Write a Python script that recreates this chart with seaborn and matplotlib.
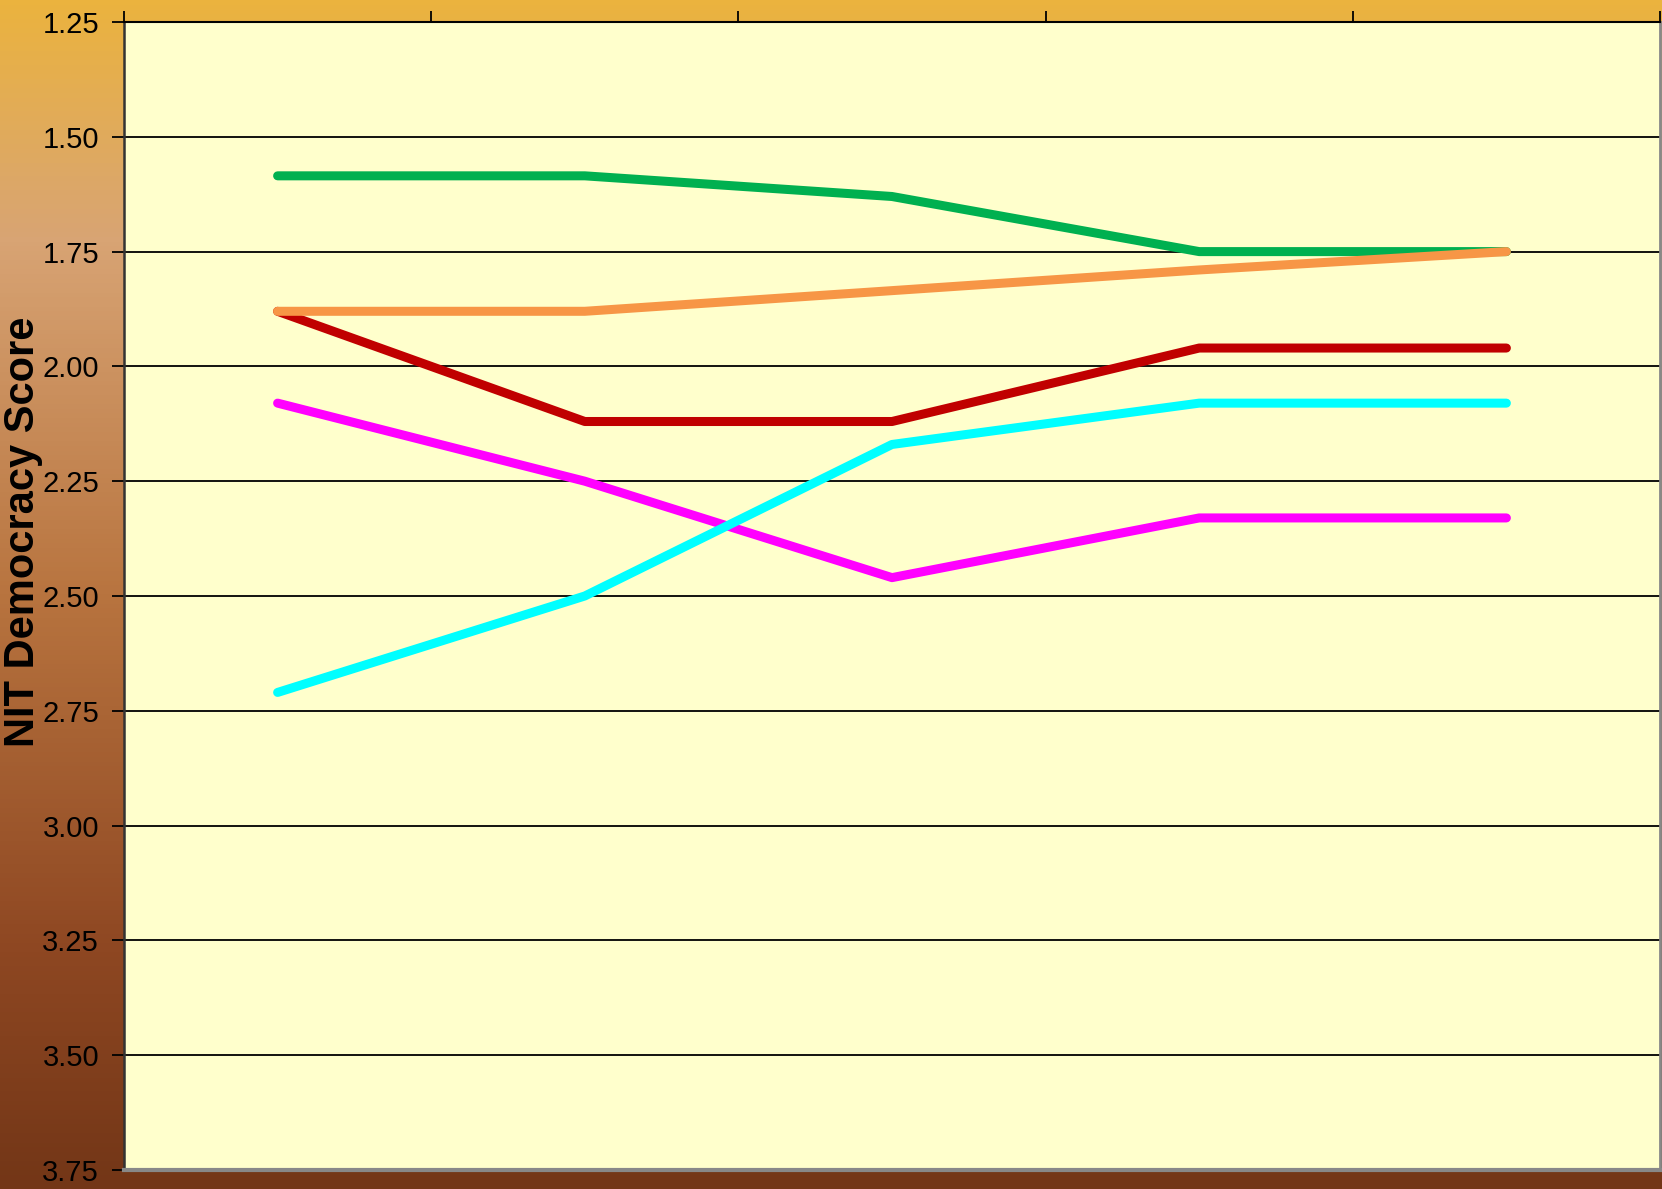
import numpy as np
import pandas as pd
import seaborn as sns
import matplotlib.pyplot as plt
from matplotlib.colors import LinearSegmentedColormap

# five periods (no labels shown on the axis)
periods = ["P1", "P2", "P3", "P4", "P5"]

# NIT democracy scores
green = [1.585, 1.585, 1.63, 1.75, 1.75]
red = [1.88, 2.12, 2.12, 1.96, 1.96]
magenta = [2.08, 2.25, 2.46, 2.33, 2.33]
cyan = [2.71, 2.50, 2.17, 2.08, 2.08]
orange = [1.88, 1.88, 1.835, 1.79, 1.75]

series_names = ["green", "red", "magenta", "cyan", "orange"]
series_values = [green, red, magenta, cyan, orange]
colors = {"green": "#00B050", "red": "#C00000", "magenta": "#FF00FF",
          "cyan": "#00FFFF", "orange": "#F79646"}

yticks = [1.25, 1.50, 1.75, 2.00, 2.25, 2.50, 2.75, 3.00, 3.25, 3.50, 3.75]

rows = []
for name, vals in zip(series_names, series_values):
    for p, v in zip(periods, vals):
        rows.append({"period": p, "score": v, "series": name})
df = pd.DataFrame(rows)

sns.set_theme(style="white")
plt.rcParams['font.family'] = ['Liberation Sans', 'DejaVu Sans']

fig = plt.figure(figsize=(16.62, 11.89), dpi=100)

# gradient background behind everything
bg = fig.add_axes([0, 0, 1, 1], zorder=-10)
grad = np.linspace(0, 1, 256).reshape(-1, 1)
cmap = LinearSegmentedColormap.from_list(
    "bg", [(0, "#EBB33E"), (0.2, "#D8A474"), (0.5, "#B8743F"),
           (0.8, "#8E4722"), (1, "#733617")])
bg.imshow(grad, aspect='auto', cmap=cmap, extent=[0, 1, 0, 1], origin='upper')
bg.axis('off')

ax = fig.add_axes([124 / 1662, 1 - 1170 / 1189, (1660 - 124) / 1662, (1170 - 22) / 1189])
ax.set_facecolor('#FFFFCC')

sns.lineplot(data=df, x="period", y="score", hue="series", hue_order=series_names,
             palette=colors, linewidth=6.5, sort=False, legend=False, ax=ax,
             solid_capstyle='round', solid_joinstyle='round', zorder=3)

ax.set_ylim(3.75, 1.25)
ax.set_yticks(yticks)
ax.set_yticklabels([f"{t:.2f}" for t in yticks])
ax.grid(axis='y', color='black', linewidth=1.3)
ax.grid(axis='x', visible=False)
ax.set_axisbelow(True)

ax.set_xlim(-0.5, 4.5)
ax.set_xticks(np.arange(-0.5, 4.6, 1))
ax.xaxis.tick_top()
ax.set_xticklabels([])
ax.tick_params(axis='x', direction='out', length=8, width=1.3, color='black', top=True)
ax.tick_params(axis='y', direction='out', length=9, width=1.3, color='black',
               labelsize=21, labelcolor='black', pad=9, left=True)

ax.spines['left'].set_color('#333333')
ax.spines['left'].set_linewidth(1.8)
ax.spines['top'].set_color('black')
ax.spines['top'].set_linewidth(1.5)
ax.spines['right'].set_color('#888888')
ax.spines['right'].set_linewidth(2)
ax.spines['bottom'].set_color('#888888')
ax.spines['bottom'].set_linewidth(3)

ax.set_xlabel('')
ax.set_ylabel('NIT Democracy Score', fontsize=30, fontweight='bold', color='black')
ax.yaxis.set_label_coords(-0.053, 0.556)

fig.savefig('out.png', dpi=100)
